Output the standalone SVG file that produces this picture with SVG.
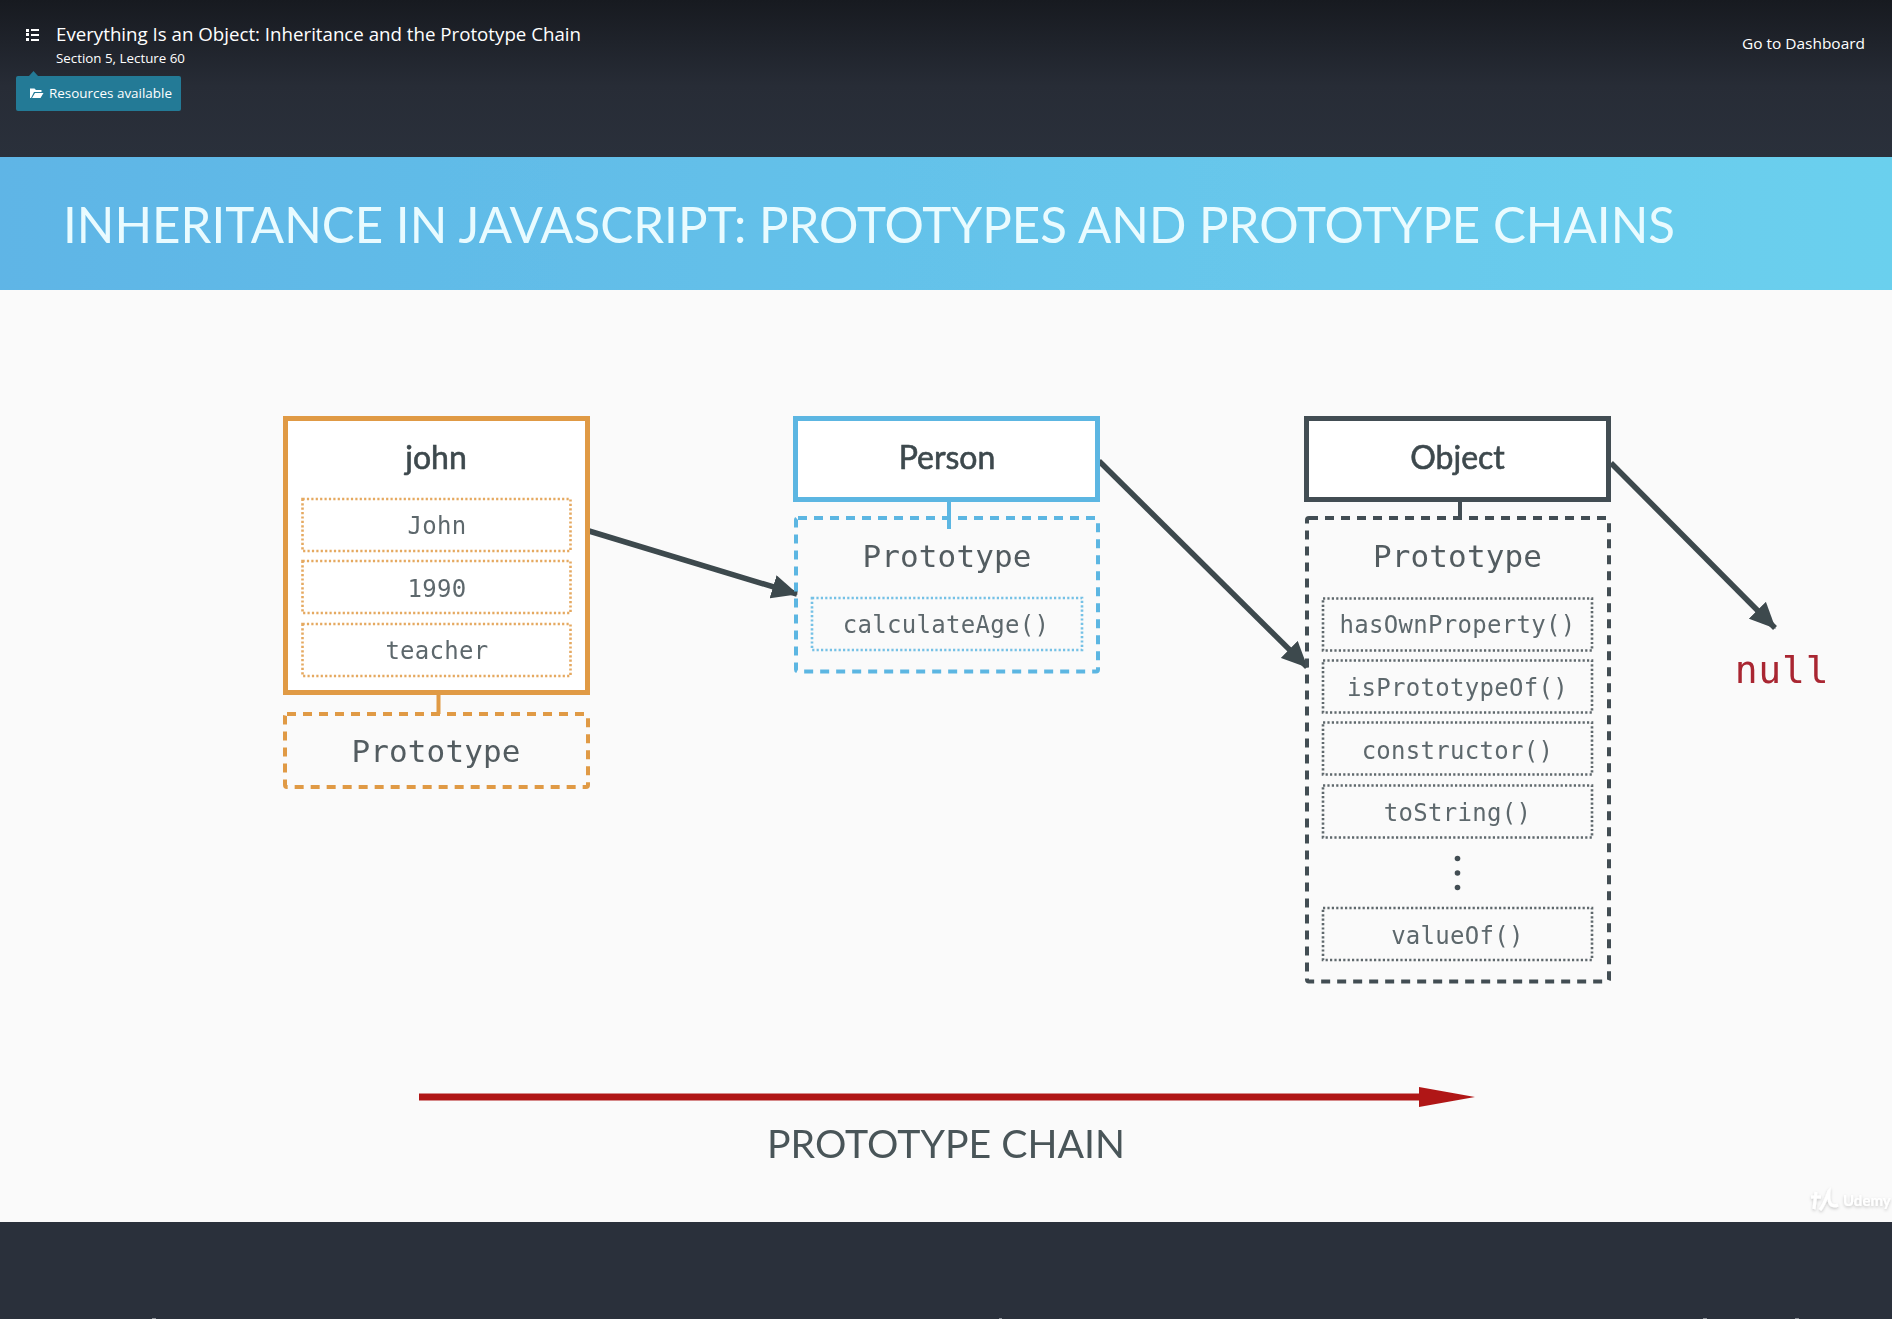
<svg xmlns="http://www.w3.org/2000/svg" width="1892" height="1319" viewBox="0 0 1892 1319">
<style>
text{font-family:"Lato","Liberation Sans",sans-serif}
.mono{font-family:"DejaVu Sans Mono","Liberation Mono",monospace;font-size:24px;fill:#5d676c;text-anchor:middle;letter-spacing:0.3px}
.proto{font-size:31px;fill:#525c61;letter-spacing:0.1px}
.head{font-size:32px;font-weight:400;fill:#3d484d;stroke:#3d484d;stroke-width:0.6px;text-anchor:middle}
.ui{font-family:"Open Sans","Liberation Sans",sans-serif;font-weight:500;fill:#fff}
.solid{fill:#fff;stroke-width:5}
.dash{fill:none;stroke-width:4;stroke-dasharray:9 7}
.dot{fill:none;stroke-width:2.6;stroke-dasharray:2.2 2.2;stroke-opacity:.85}
.o{stroke:#e09a45}.b{stroke:#5cb6e2}.k{stroke:#434e52}
.link{fill:none;stroke-width:4}
.arrow{stroke:#3d484d;stroke-width:5.5;fill:none;marker-end:url(#ah)}
</style>
<defs>
<linearGradient id="top" x1="0" y1="0" x2="0" y2="1"><stop offset="0" stop-color="#171a20"/><stop offset="0.55" stop-color="#272c36"/><stop offset="1" stop-color="#2a303b"/></linearGradient>
<linearGradient id="band" x1="0" y1="0" x2="1" y2="0"><stop offset="0" stop-color="#5eb5e6"/><stop offset="1" stop-color="#6bd0ee"/></linearGradient>
<marker id="ah" viewBox="0 0 26 24" refX="25" refY="12" markerUnits="userSpaceOnUse" markerWidth="26" markerHeight="24" orient="auto"><path d="M0 0L26 12L0 24z" fill="#3d484d"/></marker>
<filter id="soft" x="-2%" y="-2%" width="104%" height="104%"><feGaussianBlur stdDeviation="0.55"/></filter>
<filter id="wm" x="-20%" y="-40%" width="140%" height="180%"><feDropShadow dx="0" dy="1.5" stdDeviation="1.5" flood-color="#000" flood-opacity="0.22"/></filter>
</defs>

<rect width="1892" height="1319" fill="#2a303b"/>
<rect width="1892" height="157" fill="url(#top)"/>

<g id="lecture-header">
<g fill="#fff"><rect x="26" y="29" width="3" height="3"/><rect x="26" y="33" width="3" height="3"/><rect x="26" y="38" width="3" height="3"/><rect x="31" y="29" width="8" height="2"/><rect x="31" y="34" width="8" height="2"/><rect x="31" y="39" width="8" height="2"/></g>
<text class="ui" x="56" y="41" font-size="18" textLength="525" lengthAdjust="spacingAndGlyphs">Everything Is an Object: Inheritance and the Prototype Chain</text>
<text class="ui" x="56" y="63" font-size="13" textLength="129" lengthAdjust="spacingAndGlyphs">Section 5, Lecture 60</text>
<path d="M29 76L33.500 71L38 76z" fill="#237a96"/>
<rect x="16" y="76" width="165" height="35" rx="2" fill="#237a96"/>
<path d="M30 98V88.500h4.500l1.500 1.500h5.500v2H34l-3 6zM32 98l3-5h8.500l-3 5z" fill="#fff"/>
<text class="ui" x="49" y="98" font-size="13" textLength="123" lengthAdjust="spacingAndGlyphs">Resources available</text>
<text class="ui" x="1742" y="48.500" font-size="15" textLength="123" lengthAdjust="spacingAndGlyphs">Go to Dashboard</text>
</g>

<g id="slide" filter="url(#soft)">
<rect x="0" y="290" width="1892" height="932" fill="#fafafa"/>
<rect x="0" y="157" width="1892" height="133" fill="url(#band)"/>
<text x="63" y="243" font-size="50" font-weight="400" fill="#e9fbff" textLength="1612" lengthAdjust="spacingAndGlyphs">INHERITANCE IN JAVASCRIPT: PROTOTYPES AND PROTOTYPE CHAINS</text>

<g id="connectors">
<path class="link o" d="M438.500 695V714"/>
<path class="link b" d="M949 502V529"/>
<path class="link k" d="M1460 502V518"/>
<path class="arrow" d="M589 531L797 594"/>
<path class="arrow" d="M1099 461L1307 667"/>
<path class="arrow" d="M1611 463L1775 628"/>
<path d="M419 1093.500H1419V1087L1475 1097L1419 1107V1100.500H419z" fill="#b01818"/>
</g>

<g id="john">
<rect class="solid o" x="285.500" y="418.500" width="302" height="274"/>
<text class="head" x="436" y="469">john</text>
<rect class="dot o" x="302.500" y="499" width="268" height="52"/>
<text class="mono" x="437" y="534">John</text>
<rect class="dot o" x="302.500" y="561" width="268" height="52"/>
<text class="mono" x="437" y="597">1990</text>
<rect class="dot o" x="302.500" y="624" width="268" height="52"/>
<text class="mono" x="437" y="659">teacher</text>
</g>
<g id="john-prototype">
<rect class="dash o" x="285" y="714" width="303" height="73" rx="2"/>
<text class="mono proto" x="436" y="762">Prototype</text>
</g>

<g id="person">
<rect class="solid b" x="795.500" y="418.500" width="302" height="81"/>
<text class="head" x="947" y="469">Person</text>
</g>
<g id="person-prototype">
<rect class="dash b" x="796" y="518" width="302" height="153.500" rx="2"/>
<text class="mono proto" x="947" y="567">Prototype</text>
<rect class="dot b" x="812" y="598" width="270" height="52"/>
<text class="mono" x="946" y="633">calculateAge()</text>
</g>

<g id="object">
<rect class="solid k" x="1306.500" y="418.500" width="302" height="81"/>
<text class="head" x="1457.500" y="469">Object</text>
</g>
<g id="object-prototype">
<rect class="dash k" x="1307" y="518" width="302" height="463.500" rx="2"/>
<text class="mono proto" x="1457.500" y="567">Prototype</text>
<rect class="dot k" x="1323" y="598.500" width="269" height="52"/>
<text class="mono" x="1457.500" y="633">hasOwnProperty()</text>
<rect class="dot k" x="1323" y="660.500" width="269" height="52"/>
<text class="mono" x="1457.500" y="696">isPrototypeOf()</text>
<rect class="dot k" x="1323" y="722.500" width="269" height="52"/>
<text class="mono" x="1457.500" y="758.500">constructor()</text>
<rect class="dot k" x="1323" y="785.500" width="269" height="52"/>
<text class="mono" x="1457.500" y="821">toString()</text>
<circle cx="1457.500" cy="858.500" r="2.800" fill="#434e52"/><circle cx="1457.500" cy="873" r="2.800" fill="#434e52"/><circle cx="1457.500" cy="887.500" r="2.800" fill="#434e52"/>
<rect class="dot k" x="1323" y="908" width="269" height="52"/>
<text class="mono" x="1457.500" y="943.500">valueOf()</text>
</g>

<g id="null">
<text class="mono" x="1782" y="683" style="font-size:38px;fill:#a92630;letter-spacing:0.8px">null</text>
</g>

<text x="946" y="1158" font-size="39" font-weight="400" fill="#4a5559" text-anchor="middle" textLength="358" lengthAdjust="spacingAndGlyphs">PROTOTYPE CHAIN</text>

<g id="watermark" filter="url(#wm)">
<path d="M1816 1192L1814 1209M1811 1197H1821M1820 1210C1826 1202 1828 1192 1829 1191C1828 1202 1830 1208 1838 1205" fill="none" stroke="#fff" stroke-width="3"/>
<text x="1843" y="1206" font-size="15" font-weight="700" fill="#fff">Udemy</text>
</g>
</g>

<g fill="#8b8f96"><rect x="152" y="1318" width="4" height="1"/><rect x="999" y="1318" width="3" height="1"/><rect x="1703" y="1318" width="4" height="1"/><rect x="1795" y="1318" width="4" height="1"/></g>
</svg>
